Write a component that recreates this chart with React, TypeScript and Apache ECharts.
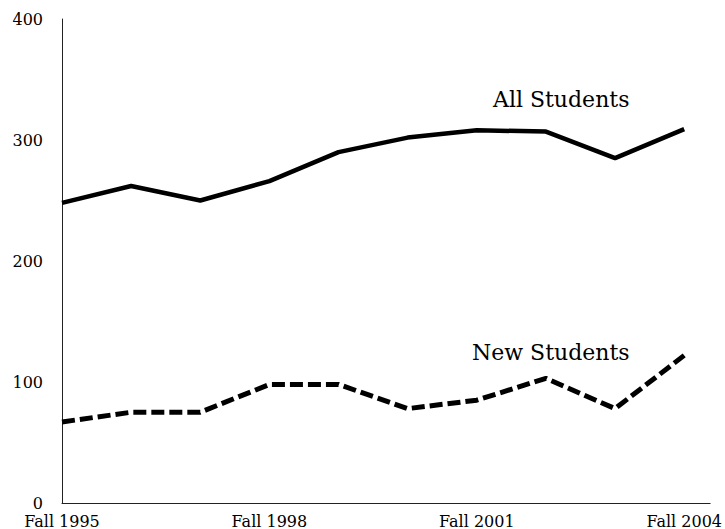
import React, { useEffect, useRef } from "react";
import * as echarts from "echarts";

const terms = ["Fall 1995", "Fall 1996", "Fall 1997", "Fall 1998", "Fall 1999", "Fall 2000", "Fall 2001", "Fall 2002", "Fall 2003", "Fall 2004"];
const allStudents = [248, 262, 250, 266, 290, 302, 308, 307, 285, 309];
const newStudents = [67, 75, 75, 98, 98, 78, 85, 103, 78, 122];
const shownTermIndexes = [0, 3, 6, 9];
const yTicks = [0, 100, 200, 300, 400];

const FONT = "DejaVu Serif";

export default function App() {
  const ref = useRef<HTMLDivElement>(null);
  useEffect(() => {
    if (!ref.current) return;
    const chart = echarts.init(ref.current, null, { renderer: "svg" });
    chart.setOption({
      animation: false,
      backgroundColor: "#ffffff",
      grid: { left: 62, right: 11, top: 19, bottom: 26, containLabel: false },
      xAxis: {
        type: "value",
        min: 0,
        max: 9.375,
        interval: 3,
        axisLine: { show: true, lineStyle: { color: "#222", width: 1 } },
        axisTick: { show: false },
        splitLine: { show: false },
        axisLabel: {
          margin: 10,
          lineHeight: 16,
          fontFamily: FONT,
          fontSize: 16,
          color: "#000",
          formatter: (v: number) =>
            Number.isInteger(v) && shownTermIndexes.includes(v) ? terms[v] : "",
        },
      },
      yAxis: {
        type: "value",
        min: yTicks[0],
        max: yTicks[yTicks.length - 1],
        interval: 100,
        axisLine: { show: true, lineStyle: { color: "#222", width: 1 } },
        axisTick: { show: false },
        splitLine: { show: false },
        axisLabel: { margin: 19, lineHeight: 14, fontFamily: FONT, fontSize: 16, color: "#000" },
      },
      series: [
        {
          name: "All Students",
          type: "line",
          data: allStudents.map((v, i) => [i, v]),
          showSymbol: false,
          symbol: "none",
          lineStyle: { color: "#000", width: 4.5, type: "solid" },
        },
        {
          name: "New Students",
          type: "line",
          data: newStudents.map((v, i) => [i, v]),
          showSymbol: false,
          symbol: "none",
          lineStyle: { color: "#000", width: 5, type: [13, 5] },
        },
      ],
      graphic: [
        {
          type: "text",
          x: 493,
          y: 88,
          style: { text: "All Students", fontFamily: FONT, fontSize: 22, fill: "#000", verticalAlign: "top" },
        },
        {
          type: "text",
          x: 472,
          y: 341,
          style: { text: "New Students", fontFamily: FONT, fontSize: 22, fill: "#000", verticalAlign: "top" },
        },
      ],
    });
    return () => chart.dispose();
  }, []);
  return <div ref={ref} style={{ width: 725, height: 529, position: "absolute", left: 0, top: 0 }} />;
}
